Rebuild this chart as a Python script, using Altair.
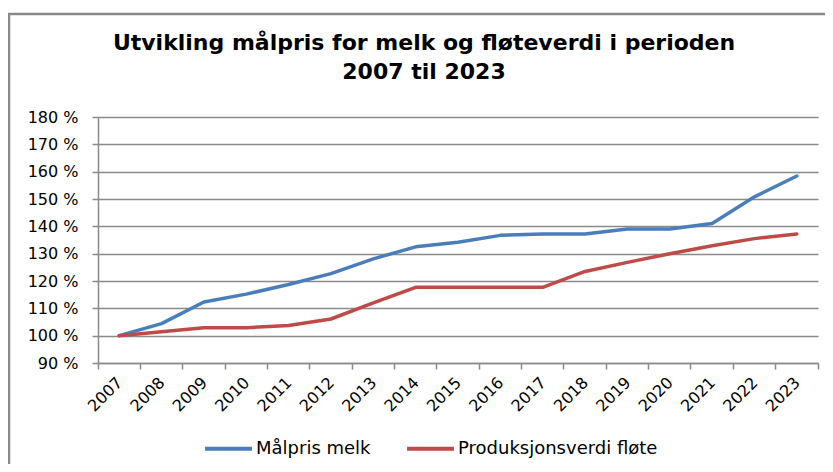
import altair as alt
import pandas as pd

years = [str(y) for y in range(2007, 2024)]
malpris_melk = [100, 104.4, 112.3, 115.2, 118.7, 122.7, 128.1, 132.5, 134.2,
                136.7, 137.2, 137.2, 139.0, 139.0, 141.0, 150.8, 158.4]
produksjonsverdi_flote = [100, 101.4, 102.9, 102.9, 103.7, 106.1, 112.0, 117.7, 117.7,
                          117.7, 117.7, 123.5, 126.8, 130.0, 132.9, 135.5, 137.2]
series_names = ["Målpris melk", "Produksjonsverdi fløte"]
series_colors = ["#4a7ebb", "#be4b48"]
y_ticks = [90, 100, 110, 120, 130, 140, 150, 160, 170, 180]

rows = []
for name, vals in zip(series_names, [malpris_melk, produksjonsverdi_flote]):
    for yr, v in zip(years, vals):
        rows.append({"year": yr, "value": v, "series": name})
df = pd.DataFrame(rows)

FONT = "DejaVu Sans"
GRID = "#8a8a8a"

frame = alt.Chart(pd.DataFrame({"f": [0]})).mark_rect(
    fillOpacity=0, stroke="#8a8a8a", strokeWidth=2.5
).encode(
    x=alt.value(-89), x2=alt.value(760), y=alt.value(-103), y2=alt.value(420)
)

lines = alt.Chart(df).mark_line(
    strokeWidth=3.5, strokeCap="round", strokeJoin="round"
).encode(
    x=alt.X(
        "year:O",
        scale=alt.Scale(type="band", paddingInner=0, paddingOuter=0),
        axis=alt.Axis(
            title=None, labelAngle=-45, labelAlign="right", labelBaseline="top",
            bandPosition=1, tickExtra=True, labelOffset=-5,
            labelFont=FONT, labelFontSize=16, labelColor="#000000",
            labelPadding=5, tickSize=6, tickColor=GRID, tickWidth=1.5,
            domainColor=GRID, domainWidth=1.5, grid=False,
        ),
    ),
    y=alt.Y(
        "value:Q",
        scale=alt.Scale(domain=[90, 180], nice=False, zero=False),
        axis=alt.Axis(
            title=None, values=y_ticks, labelExpr="datum.value + ' %'",
            labelFont=FONT, labelFontSize=16, labelColor="#000000",
            labelPadding=14, tickSize=6, tickColor=GRID, tickWidth=1.5,
            domainColor=GRID, domainWidth=1.5,
            grid=True, gridColor=GRID, gridWidth=1.5,
        ),
    ),
    color=alt.Color(
        "series:N",
        scale=alt.Scale(domain=series_names, range=series_colors),
        legend=alt.Legend(
            title=None, orient="none", legendX=105, legendY=306,
            direction="horizontal", symbolType="stroke", symbolSize=2200,
            symbolStrokeWidth=4, labelFont=FONT, labelFontSize=18,
            labelColor="#000000", columnPadding=28, labelOffset=2,
            labelLimit=400,
        ),
    ),
)

chart = alt.layer(frame, lines).properties(
    width=720,
    height=246,
    autosize="none",
    padding={"left": 90, "top": 109, "right": 7, "bottom": 101},
    title=alt.TitleParams(
        text=["Utvikling målpris for melk og fløteverdi i perioden", "2007 til 2023"],
        font=FONT, fontSize=22, fontWeight="bold", lineHeight=29,
        color="#000000", dx=-34, dy=103, offset=32, frame="group",
    ),
).configure_view(stroke=None)

chart.save("out.html", embed_options={"renderer": "svg", "actions": False})
